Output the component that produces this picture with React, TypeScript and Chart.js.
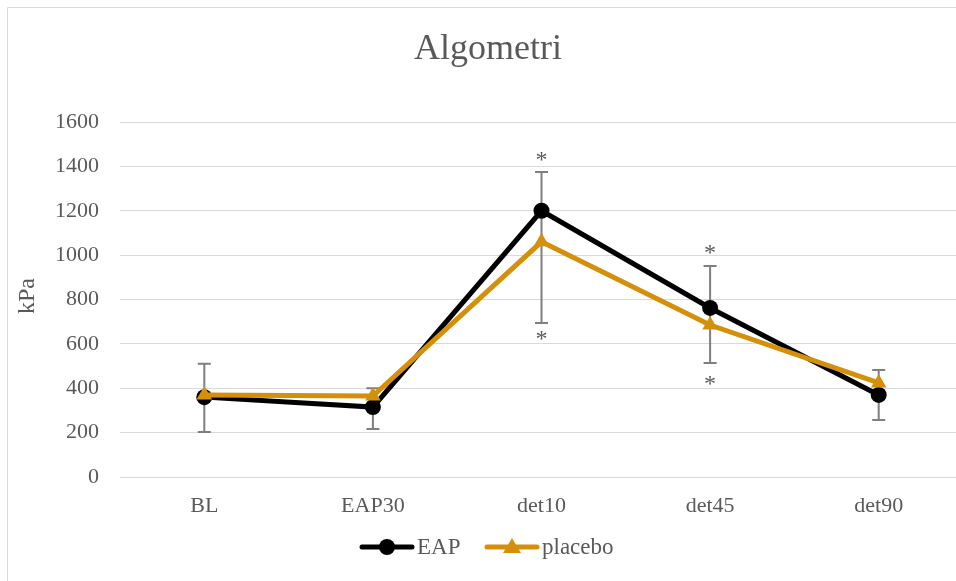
import React, { useEffect, useRef } from "react";
import { Chart, registerables } from "chart.js";

Chart.register(...registerables);

const categories = ["BL", "EAP30", "det10", "det45", "det90"];
const eapValues = [360, 315, 1200, 762, 370];
const placeboValues = [370, 365, 1060, 685, 424];
const eapErrorPlus = [150, 85, 175, 189, 112];
const placeboErrorMinus = [167, 149, 366, 171, 167];
const asteriskAbove = [null, null, 1442, 1023, null];
const asteriskBelow = [null, null, 635, 433, null];
const yTicks = [0, 200, 400, 600, 800, 1000, 1200, 1400, 1600];

const FONT = "'Liberation Serif', 'Times New Roman', serif";
const TEXT = "#595959";
const EAP_COLOR = "#000000";
const PLACEBO_COLOR = "#D4900A";
const GRID = "#D9D9D9";
const ERR = "#7F7F7F";

const overlayPlugin = {
  id: "overlay",
  beforeDatasetsDraw(chart: any) {
    const ctx = chart.ctx;
    const x = chart.scales.x;
    const y = chart.scales.y;
    ctx.save();
    ctx.strokeStyle = ERR;
    ctx.lineWidth = 2;
    categories.forEach((_, i) => {
      const px = x.getPixelForValue(i);
      const top = y.getPixelForValue(eapValues[i] + eapErrorPlus[i]);
      const bot = y.getPixelForValue(placeboValues[i] - placeboErrorMinus[i]);
      ctx.beginPath();
      ctx.moveTo(px, top);
      ctx.lineTo(px, bot);
      ctx.moveTo(px - 6.5, top);
      ctx.lineTo(px + 6.5, top);
      ctx.moveTo(px - 6.5, bot);
      ctx.lineTo(px + 6.5, bot);
      ctx.stroke();
    });
    ctx.restore();
  },
  afterDraw(chart: any) {
    const ctx = chart.ctx;
    const x = chart.scales.x;
    const y = chart.scales.y;
    ctx.save();
    // frame
    ctx.strokeStyle = GRID;
    ctx.lineWidth = 1;
    ctx.beginPath();
    ctx.moveTo(7.5, 600);
    ctx.lineTo(7.5, 7.5);
    ctx.lineTo(1000, 7.5);
    ctx.stroke();

    // title
    ctx.fillStyle = TEXT;
    ctx.textAlign = "center";
    ctx.textBaseline = "middle";
    ctx.font = `36px ${FONT}`;
    ctx.fillText("Algometri", 488, 50);

    // y axis title
    ctx.save();
    ctx.translate(28, 296);
    ctx.rotate(-Math.PI / 2);
    ctx.font = `24px ${FONT}`;
    ctx.fillText("kPa", 0, 0);
    ctx.restore();

    // asterisks
    ctx.font = `24px ${FONT}`;
    categories.forEach((_, i) => {
      const px = x.getPixelForValue(i);
      const a = asteriskAbove[i];
      const b = asteriskBelow[i];
      if (a != null) ctx.fillText("*", px, y.getPixelForValue(a) + 4);
      if (b != null) ctx.fillText("*", px, y.getPixelForValue(b) + 4);
    });

    // legend
    const ly = 547;
    const drawItem = (x0: number, color: string, style: string, label: string) => {
      ctx.strokeStyle = color;
      ctx.lineWidth = 5;
      ctx.lineCap = "round";
      ctx.beginPath();
      ctx.moveTo(x0, ly);
      ctx.lineTo(x0 + 50, ly);
      ctx.stroke();
      ctx.fillStyle = color;
      const cx = x0 + 25;
      ctx.beginPath();
      if (style === "circle") {
        ctx.arc(cx, ly, 8, 0, Math.PI * 2);
      } else {
        ctx.moveTo(cx, ly - 9);
        ctx.lineTo(cx + 9, ly + 6);
        ctx.lineTo(cx - 9, ly + 6);
        ctx.closePath();
      }
      ctx.fill();
      ctx.fillStyle = TEXT;
      ctx.textAlign = "left";
      ctx.textBaseline = "middle";
      ctx.font = `23px ${FONT}`;
      ctx.fillText(label, x0 + 55, ly + 1);
    };
    drawItem(362, EAP_COLOR, "circle", "EAP");
    drawItem(487, PLACEBO_COLOR, "triangle", "placebo");
    ctx.restore();
  },
};

export default function App() {
  const canvasRef = useRef<HTMLCanvasElement | null>(null);

  useEffect(() => {
    document.body.style.overflow = "hidden";
    const canvas = canvasRef.current;
    if (!canvas) return;
    const chart = new Chart(canvas, {
      type: "line",
      data: {
        labels: categories,
        datasets: [
          {
            label: "EAP",
            data: eapValues,
            borderColor: EAP_COLOR,
            backgroundColor: EAP_COLOR,
            borderWidth: 5,
            pointStyle: "circle",
            pointRadius: 8,
            pointBorderWidth: 0,
            tension: 0,
            order: 2,
          },
          {
            label: "placebo",
            data: placeboValues,
            borderColor: PLACEBO_COLOR,
            backgroundColor: PLACEBO_COLOR,
            borderWidth: 5,
            pointStyle: "triangle",
            pointRadius: 9,
            pointBorderWidth: 0,
            tension: 0,
            order: 1,
          },
        ],
      },
      options: {
        animation: false,
        responsive: false,
        maintainAspectRatio: false,
        layout: { padding: { top: 122, left: 0, right: 0, bottom: 0 } },
        plugins: {
          legend: { display: false },
          title: { display: false },
          tooltip: { enabled: false },
        },
        scales: {
          x: {
            offset: true,
            grid: { display: false, drawTicks: false },
            border: { display: false },
            ticks: {
              color: TEXT,
              font: { family: FONT, size: 22 },
              padding: 16,
              maxRotation: 0,
            },
            afterFit: (scale: any) => {
              scale.height = 104;
            },
          },
          y: {
            min: 0,
            max: 1600,
            afterBuildTicks: (scale: any) => {
              scale.ticks = yTicks.map((v) => ({ value: v }));
            },
            grid: { color: GRID, lineWidth: 1, drawTicks: false },
            border: { display: false },
            ticks: {
              color: TEXT,
              font: { family: FONT, size: 22 },
              padding: 21,
              callback: (v: any) => String(v),
            },
            afterFit: (scale: any) => {
              scale.width = 120;
            },
          },
        },
      },
      plugins: [overlayPlugin],
    });
    return () => chart.destroy();
  }, []);

  return (
    <div style={{ position: "fixed", left: 0, top: 0, width: 972, height: 581, background: "#fff" }}>
      <canvas ref={canvasRef} width={972} height={581} style={{ width: 972, height: 581, display: "block" }} />
    </div>
  );
}
